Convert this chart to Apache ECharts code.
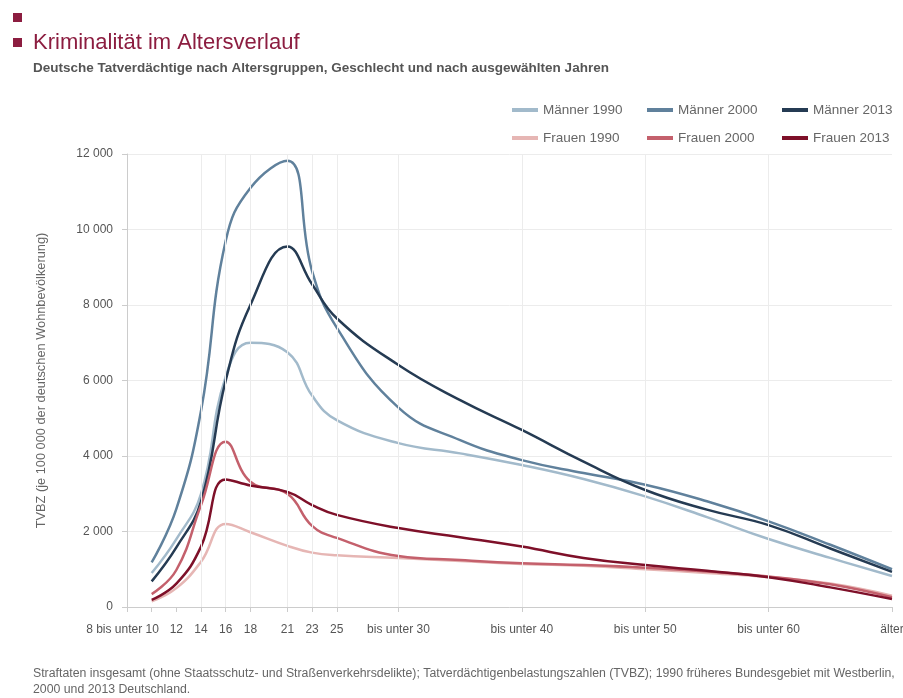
<!DOCTYPE html>
<html>
<head>
<meta charset="utf-8">
<script src="https://cdn.jsdelivr.net/npm/echarts@6/dist/echarts.min.js"></script>
<style>
html,body{margin:0;padding:0;background:#fff;}
#chart{width:903px;height:698px;}
</style>
</head>
<body>
<div id="chart"></div>
<script>
// ---- data ----
const ages = [10, 12, 14, 16, 18, 21, 23, 25, 30, 35, 40, 45, 50, 55, 60, 65, 70];
const maenner1990 = [900, 1800, 3000, 6100, 7000, 6750, 5600, 4950, 4340, 4070, 3760, 3390, 2930, 2380, 1800, 1300, 820];
const maenner2000 = [1180, 2600, 5200, 9700, 11100, 11820, 8900, 7400, 5280, 4420, 3890, 3550, 3240, 2800, 2270, 1650, 1000];
const maenner2013 = [680, 1580, 2800, 6000, 8000, 9550, 8550, 7650, 6410, 5480, 4690, 3850, 3100, 2580, 2170, 1550, 930];
const frauen1990 = [150, 500, 1200, 2200, 1980, 1620, 1440, 1370, 1300, 1220, 1140, 1090, 1000, 900, 790, 620, 300];
const frauen2000 = [340, 980, 2700, 4380, 3320, 3000, 2150, 1830, 1350, 1245, 1160, 1110, 1040, 940, 810, 600, 260];
const frauen2013 = [190, 620, 1600, 3380, 3220, 3050, 2700, 2440, 2090, 1850, 1600, 1300, 1110, 960, 790, 520, 210];

const tickValues = [8, 10, 12, 14, 16, 18, 21, 23, 25, 30, 40, 50, 60, 70];
const labelValues = [8, 12, 14, 16, 18, 21, 23, 25, 30, 40, 50, 60, 70];
const labelTexts = ['8 bis unter 10', '12', '14', '16', '18', '21', '23', '25', 'bis unter 30', 'bis unter 40', 'bis unter 50', 'bis unter 60', 'älter'];
const gridValues = [14, 16, 18, 21, 23, 25, 30, 40, 50, 60];

const seriesNames = ['Männer 1990', 'Männer 2000', 'Männer 2013', 'Frauen 1990', 'Frauen 2000', 'Frauen 2013'];
const seriesData = [maenner1990, maenner2000, maenner2013, frauen1990, frauen2000, frauen2013];
const seriesColors = ['#a2bacb', '#60819c', '#253b53', '#e6b6b4', '#c4606c', '#7e1029'];

const FONT = '"Liberation Sans", Arial, sans-serif';

const chart = echarts.init(document.getElementById('chart'), null, {renderer: 'canvas'});

const series = seriesNames.map((name, i) => ({
  name: name,
  type: 'line',
  data: ages.map((a, j) => [a, seriesData[i][j]]),
  smooth: 0.45,
  showSymbol: false,
  symbol: 'none',
  lineStyle: {width: 2.5, color: seriesColors[i]},
  itemStyle: {color: seriesColors[i]},
  z: 3
}));

series.unshift({
  name: 'grid',
  type: 'line',
  data: [],
  z: 1,
  silent: true,
  markLine: {
    silent: true,
    symbol: ['none', 'none'],
    label: {show: false},
    lineStyle: {color: '#ececec', width: 1, type: 'solid'},
    data: gridValues.map(v => ({xAxis: v}))
  }
});

const legendLefts = [507, 642, 777];
const legendTops = [98, 126];
const legends = seriesNames.map((name, i) => ({
  left: legendLefts[i % 3],
  top: legendTops[Math.floor(i / 3)],
  itemWidth: 26,
  itemHeight: 4,
  icon: 'rect',
  data: [name],
  textStyle: {fontFamily: FONT, fontSize: 13.5, color: '#666'},
  selectedMode: false
}));

chart.setOption({
  animation: false,
  backgroundColor: '#fff',
  graphic: [
    {type: 'rect', shape: {x: 13, y: 13, width: 9, height: 9}, style: {fill: '#8c1d40'}},
    {type: 'rect', shape: {x: 13, y: 38, width: 9, height: 9}, style: {fill: '#8c1d40'}},
    {type: 'text', x: 33, y: 43, style: {text: 'Kriminalität im Altersverlauf', font: '22px ' + FONT, fill: '#8c1d40', verticalAlign: 'middle'}},
    {type: 'text', x: 33, y: 68, style: {text: 'Deutsche Tatverdächtige nach Altersgruppen, Geschlecht und nach ausgewählten Jahren', font: 'bold 13.5px ' + FONT, fill: '#555', verticalAlign: 'middle'}},
    {type: 'text', x: 33, y: 674, style: {text: 'Straftaten insgesamt (ohne Staatsschutz- und Straßenverkehrsdelikte); Tatverdächtigenbelastungszahlen (TVBZ); 1990 früheres Bundesgebiet mit Westberlin,', font: '12.3px ' + FONT, fill: '#666', verticalAlign: 'middle'}},
    {type: 'text', x: 33, y: 690, style: {text: '2000 und 2013 Deutschland.', font: '12.3px ' + FONT, fill: '#666', verticalAlign: 'middle'}}
  ],
  legend: legends,
  grid: {left: 127, right: 11, top: 154, bottom: 91, containLabel: false, outerBoundsMode: 'none'},
  xAxis: {
    type: 'value',
    min: 8,
    max: 70,
    axisLine: {show: true, lineStyle: {color: '#cccccc', width: 1}},
    axisTick: {show: true, customValues: tickValues, length: 5, lineStyle: {color: '#cccccc'}},
    axisLabel: {
      customValues: labelValues,
      margin: 17,
      fontFamily: FONT,
      fontSize: 12,
      color: '#555',
      formatter: function (v) {
        const idx = labelValues.indexOf(v);
        if (idx === 0) return '{first|' + labelTexts[0] + '}';
        return idx >= 0 ? labelTexts[idx] : '';
      },
      rich: {
        first: {fontFamily: FONT, fontSize: 12, color: '#555', padding: [0, 9, 0, 0]}
      }
    },
    splitLine: {show: false}
  },
  yAxis: {
    type: 'value',
    min: 0,
    max: 12000,
    interval: 2000,
    name: 'TVBZ (je 100 000 der deutschen Wohnbevölkerung)',
    nameLocation: 'middle',
    nameRotate: 90,
    nameGap: 79,
    nameTextStyle: {fontFamily: FONT, fontSize: 12.8, color: '#666'},
    axisLine: {show: true, lineStyle: {color: '#cccccc', width: 1}},
    axisTick: {show: true, length: 5, lineStyle: {color: '#cccccc'}},
    axisLabel: {
      margin: 14,
      fontFamily: FONT,
      fontSize: 12,
      color: '#555',
      formatter: function (v) {
        return v >= 1000 ? Math.floor(v / 1000) + ' 000' : String(v);
      }
    },
    splitLine: {show: true, lineStyle: {color: '#ececec', width: 1}}
  },
  series: series
});
</script>
</body>
</html>
